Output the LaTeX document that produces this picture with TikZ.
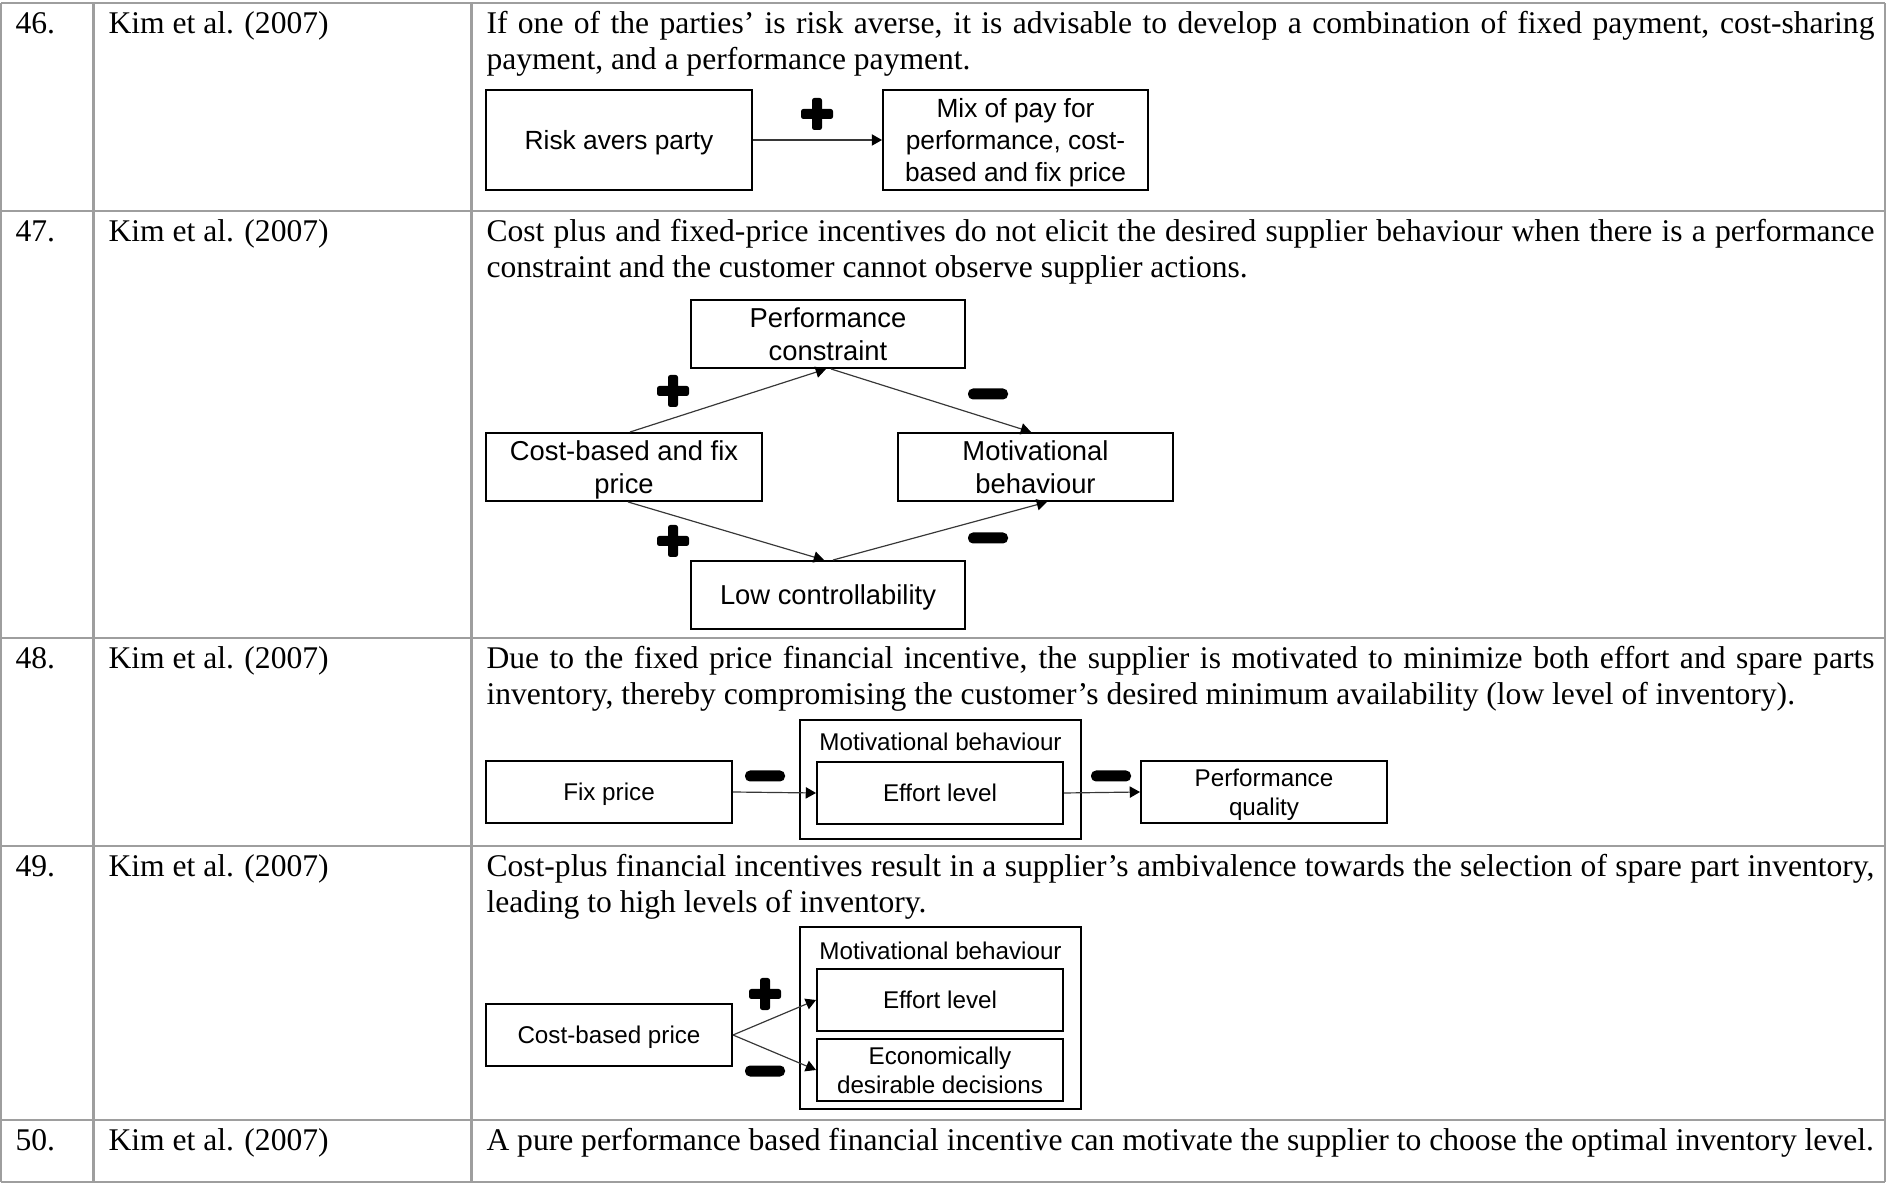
\documentclass[tikz,border=0pt]{standalone}
\usepackage{fontspec}
\setmainfont{Liberation Serif}
\setsansfont{Liberation Sans}
\usetikzlibrary{arrows.meta,calc}

\definecolor{rulegray}{RGB}{158,158,158}
\definecolor{linkgray}{RGB}{55,55,55}

\tikzset{
  cell/.style={anchor=base west, inner sep=0pt, font=\fontsize{12}{13.7}\selectfont},
  box/.style 2 args={draw, line width=0.75pt, inner sep=0pt, align=center, text depth=0pt,
    minimum width=#1*0.38pt, minimum height=#2*0.38pt},
  sfA/.style={font=\sffamily\fontsize{10}{12}\selectfont},
  sfB/.style={font=\sffamily\fontsize{10.4}{12.4}\selectfont},
  sfC/.style={font=\sffamily\fontsize{9.2}{11}\selectfont},
  grouptitle/.style={inner sep=0pt, text depth=0pt, sfC},
  link/.style={draw=linkgray, line width=0.45pt,
    -{Triangle[length=3.9pt,width=4.3pt,color=black]}},
  tablerule/.style={draw=rulegray, line width=0.8pt},
  plussign/.pic={
    \fill[rounded corners=0.9pt] (-16,-5) rectangle (16,5);
    \fill[rounded corners=0.9pt] (-5,-16) rectangle (5,16);
  },
  minussign/.pic={
    \fill[rounded corners=1.9pt] (-20,-5.5) rectangle (20,5.5);
  },
}

\newcommand{\fullline}[1]{\makebox[527.4pt][s]{#1}}

\begin{document}
\begin{tikzpicture}[x=0.38pt,y=-0.38pt]
\useasboundingbox (0,0) rectangle (1887,1184);

% table grid
\foreach \yy in {3,211,638,846,1120,1182}
  \draw[tablerule] (1,\yy) -- (1885,\yy);
\foreach \xx in {1,93.5,471.5,1885}
  \draw[tablerule] (\xx,3) -- (\xx,1182);

% ---- row 46
\node[cell] (n46) at (15,33.7) {46.};
\node[cell] (k46) at (108,33.7) {Kim et al. (2007)};
\node[cell] (t46a) at (486,33.7) {\fullline{If one of the parties’ is risk averse, it is advisable to develop a combination of fixed payment, cost-sharing}};
\node[cell] (t46b) at (486,69.7) {payment, and a performance payment.};

\node[box={266}{100}, sfA] (risk) at (619,140) {Risk avers party};
\node[box={265}{100}, sfA] (mix) at (1015.5,140) {Mix of pay for\\performance, cost-\\based and fix price};
\draw[link] (risk.east) -- (mix.west);
\pic at (817,114) {plussign};

% ---- row 47
\node[cell] (n47) at (15,241.7) {47.};
\node[cell] (k47) at (108,241.7) {Kim et al. (2007)};
\node[cell] (t47a) at (486,241.7) {\fullline{Cost plus and fixed-price incentives do not elicit the desired supplier behaviour when there is a performance}};
\node[cell] (t47b) at (486,277.7) {constraint and the customer cannot observe supplier actions.};

\node[box={274}{68}, sfB] (perf) at (828,334) {Performance\\constraint};
\node[box={276}{68}, sfB] (cost) at (624,467) {Cost-based and fix\\price};
\node[box={275}{68}, sfB] (motiv) at (1035.5,467) {Motivational\\behaviour};
\node[box={274}{68}, sfB] (low) at (828,595) {Low controllability};
\draw[link] ([xshift=2.28pt]cost.north) -- ([xshift=-0.76pt]perf.south);
\draw[link] ([xshift=1.14pt]perf.south) -- ([xshift=-1.7pt]motiv.north);
\draw[link] ([xshift=1.52pt]cost.south) -- ([xshift=-1.52pt]low.north);
\draw[link] ([xshift=1.9pt]low.north) -- ([xshift=4.37pt]motiv.south);
\pic at (673,391) {plussign};
\pic at (988,394) {minussign};
\pic at (673,541) {plussign};
\pic at (988,538) {minussign};

% ---- row 48
\node[cell] (n48) at (15,668.7) {48.};
\node[cell] (k48) at (108,668.7) {Kim et al. (2007)};
\node[cell] (t48a) at (486,668.7) {\fullline{Due to the fixed price financial incentive, the supplier is motivated to minimize both effort and spare parts}};
\node[cell] (t48b) at (486,704.7) {inventory, thereby compromising the customer's desired minimum availability (low level of inventory).};

\node[box={246}{62}, sfC] (fix) at (609,792) {Fix price};
\node[box={281}{119}] (groupA) at (940.5,779.5) {};
\node[grouptitle] (titleA) at (940.5,742) {Motivational behaviour};
\node[box={246}{62}, sfC] (effortA) at (940,793) {Effort level};
\node[box={246}{62}, sfC] (quality) at (1264,792) {Performance\\quality};
\draw[link] (fix.east) -- (effortA.west);
\draw[link] (effortA.east) -- (quality.west);
\pic at (765,776) {minussign};
\pic at (1111,776) {minussign};

% ---- row 49
\node[cell] (n49) at (15,876.7) {49.};
\node[cell] (k49) at (108,876.7) {Kim et al. (2007)};
\node[cell] (t49a) at (486,876.7) {\fullline{Cost-plus financial incentives result in a supplier's ambivalence towards the selection of spare part inventory,}};
\node[cell] (t49b) at (486,912.7) {leading to high levels of inventory.};

\node[box={246}{62}, sfC] (costp) at (609,1035) {Cost-based price};
\node[box={281}{182}] (groupB) at (940.5,1018) {};
\node[grouptitle] (titleB) at (940.5,951) {Motivational behaviour};
\node[box={246}{62}, sfC] (effortB) at (940,1000) {Effort level};
\node[box={246}{62}, sfC] (econ) at (940,1070) {Economically\\desirable decisions};
\draw[link] (costp.east) -- (effortB.west);
\draw[link] (costp.east) -- (econ.west);
\pic at (765,994) {plussign};
\pic at (765,1071) {minussign};

% ---- row 50
\node[cell] (n50) at (15,1150.7) {50.};
\node[cell] (k50) at (108,1150.7) {Kim et al. (2007)};
\node[cell] (t50a) at (486,1150.7) {A pure performance based financial incentive can motivate the supplier to choose the optimal inventory level.};
\end{tikzpicture}
\end{document}
